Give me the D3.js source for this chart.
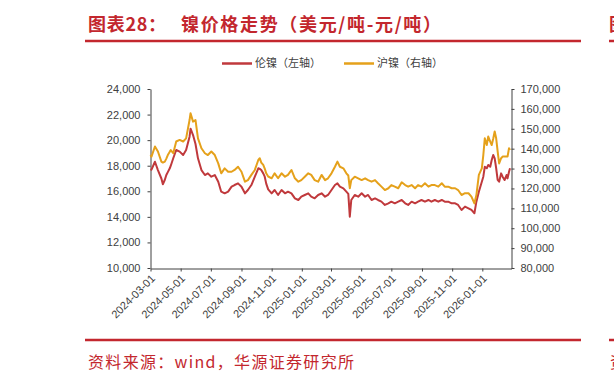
<!DOCTYPE html>
<html>
<head>
<meta charset="utf-8">
<title>镍价格走势</title>
<script src="https://d3js.org/d3.v7.min.js"></script>
<style>
    body { margin: 0; background: #fff; }
    .axis text { font-family: "Liberation Sans", Arial, sans-serif; font-size: 11px; fill: #404040; }
    .axis path, .axis line { stroke: #404040; }
    .cjk { font-family: "Noto Sans CJK SC", sans-serif; }
</style>
</head>
<body>
<svg id="chart" width="614" height="378"></svg>
<script>
// dates of the sampled points
var dates = [
    "2024-03-01","2024-03-03","2024-03-10","2024-03-16","2024-03-23","2024-03-26","2024-03-30",
    "2024-04-02","2024-04-05","2024-04-09","2024-04-11","2024-04-16","2024-04-22","2024-04-29",
    "2024-05-06","2024-05-12","2024-05-19","2024-05-21","2024-05-26","2024-05-31",
    "2024-06-05","2024-06-12","2024-06-19","2024-06-25",
    "2024-07-02","2024-07-09","2024-07-16","2024-07-22","2024-07-29",
    "2024-08-05","2024-08-12","2024-08-18","2024-08-25",
    "2024-09-01","2024-09-08","2024-09-14","2024-09-21","2024-09-28",
    "2024-10-05","2024-10-08","2024-10-11","2024-10-15","2024-10-18","2024-10-21","2024-10-25",
    "2024-11-01","2024-11-07","2024-11-14","2024-11-21","2024-11-28",
    "2024-12-04","2024-12-11","2024-12-18","2024-12-25","2024-12-31",
    "2025-01-07","2025-01-14","2025-01-20","2025-01-27",
    "2025-02-03","2025-02-10","2025-02-17","2025-02-23",
    "2025-03-02","2025-03-09","2025-03-14","2025-03-19","2025-03-26",
    "2025-04-01","2025-04-05","2025-04-08","2025-04-11","2025-04-18","2025-04-25",
    "2025-05-02","2025-05-09","2025-05-15","2025-05-22","2025-05-29",
    "2025-06-04","2025-06-11","2025-06-18","2025-06-25",
    "2025-07-01","2025-07-08","2025-07-15","2025-07-22","2025-07-29",
    "2025-08-04","2025-08-11","2025-08-18","2025-08-24","2025-08-31",
    "2025-09-07","2025-09-14","2025-09-20","2025-09-27",
    "2025-10-04","2025-10-11","2025-10-17","2025-10-24","2025-10-31",
    "2025-11-07","2025-11-13","2025-11-20","2025-11-27",
    "2025-12-04","2025-12-10","2025-12-16","2025-12-20","2025-12-25","2025-12-31",
    "2026-01-03","2026-01-06","2026-01-10","2026-01-13","2026-01-17","2026-01-20","2026-01-23","2026-01-26","2026-01-29",
    "2026-02-01","2026-02-04","2026-02-08","2026-02-11","2026-02-15","2026-02-19","2026-02-21","2026-02-24","2026-02-26"
];

// LME nickel, USD/t (left axis)
var lmeNickel = [
    17660,17700,18310,17660,17000,16550,16900,
    17270,17500,17800,18000,18580,19230,19100,
    18840,19230,20270,20900,20400,19700,
    18580,17660,17270,17400,
    17140,17270,16750,15970,15840,
    15970,16360,16490,16620,
    16360,15840,16100,16490,17140,
    17800,17750,17660,17400,17140,16600,16150,
    15840,16100,15710,16100,15840,
    15970,15840,15450,15320,15580,
    15710,15840,15580,15450,
    15710,15840,15580,15710,
    16100,16490,16620,16360,16230,
    15970,15800,14010,15320,15710,15580,
    15840,15580,15710,15320,15450,
    15320,15190,14930,15060,
    15190,15060,15190,15320,15060,
    14930,15190,15060,15190,15320,
    15190,15320,15190,15320,
    15190,15320,15190,15190,15060,
    15060,14930,14540,14800,
    14670,14540,14280,15190,15970,16750,
    17140,17920,17800,18060,17920,18450,18840,18580,17800,
    16900,16750,17400,17140,16880,17270,17010,17530,17800
];

// SHFE nickel, CNY/t (right axis)
var shfeNickel = [
    136800,136000,141100,138600,133500,133000,133500,
    135000,136800,138500,139300,137700,143600,144400,
    143600,145200,154400,157800,153600,154400,
    145200,140200,137700,136800,
    138600,136800,132600,127600,130100,
    128400,128400,129300,130900,
    128400,123400,124200,126800,129300,
    134300,135200,133000,131800,130000,127600,126000,
    125100,127600,125100,127600,125900,
    126800,129300,125100,123400,124200,
    125900,127600,126800,124200,
    123400,126800,124200,125100,
    127600,130900,133500,130900,130100,
    127600,126500,120100,124200,125900,125100,
    124200,125100,124200,123400,124200,
    122600,120900,119200,120100,
    121700,120900,120100,123100,121700,
    120900,121700,120100,121700,120900,
    122600,120900,121700,121700,
    120900,122600,120900,120900,120100,
    120100,119200,116700,117600,
    117600,115900,112500,116700,126800,130100,
    136800,145200,141800,146100,143600,141800,145000,148600,145200,
    138600,132600,135200,136000,136000,136000,136000,140200,139300
];

var leftTicks = [10000, 12000, 14000, 16000, 18000, 20000, 22000, 24000];
var rightTicks = [80000, 90000, 100000, 110000, 120000, 130000, 140000, 150000, 160000, 170000];
var xTicks = ["2024-03-01","2024-05-01","2024-07-01","2024-09-01","2024-11-01","2025-01-01",
              "2025-03-01","2025-05-01","2025-07-01","2025-09-01","2025-11-01","2026-01-01"];
var seriesNames = ["伦镍（左轴）", "沪镍（右轴）"];
var seriesColors = ["#c0393c", "#e5a11b"];

var parse = d3.timeParse("%Y-%m-%d");
var svg = d3.select("#chart");
var red = "#c3272e";

svg.append("rect").attr("width", 614).attr("height", 378).attr("fill", "#fff");

// title and rules
var title = svg.append("text").attr("class", "cjk")
    .attr("y", 31).attr("fill", red)
    .style("font-size", "18px").style("font-weight", "bold");
title.append("tspan").attr("x", 88).attr("textLength", 78).text("图表28：");
title.append("tspan").attr("x", 181).attr("textLength", 260).text("镍价格走势（美元/吨-元/吨）");

svg.append("line").attr("x1", 85).attr("x2", 581).attr("y1", 41).attr("y2", 41)
    .attr("stroke", red).attr("stroke-width", 2.5);
svg.append("line").attr("x1", 85).attr("x2", 581).attr("y1", 340).attr("y2", 340)
    .attr("stroke", red).attr("stroke-width", 2.5);

svg.append("text").attr("class", "cjk")
    .attr("x", 88).attr("y", 368).attr("fill", red)
    .attr("textLength", 266)
    .style("font-size", "16px")
    .text("资料来源：wind，华源证券研究所");

// bits of the next chart cut off at the right edge
svg.append("text").attr("class", "cjk").attr("x", 609).attr("y", 31).attr("fill", red)
    .style("font-size", "18px").style("font-weight", "bold").text("图");
svg.append("line").attr("x1", 609).attr("x2", 614).attr("y1", 41).attr("y2", 41)
    .attr("stroke", red).attr("stroke-width", 2.5);
svg.append("line").attr("x1", 609).attr("x2", 614).attr("y1", 340).attr("y2", 340)
    .attr("stroke", red).attr("stroke-width", 2.5);
svg.append("text").attr("class", "cjk").attr("x", 610).attr("y", 368).attr("fill", red)
    .style("font-size", "16px").text("资");

// scales
var x = d3.scaleTime()
    .domain([parse("2024-03-01"), parse("2026-03-01")])
    .range([150.5, 511.5]);
var yLeft = d3.scaleLinear().domain([10000, 24000]).range([268, 89]);
var yRight = d3.scaleLinear().domain([80000, 170000]).range([268, 89]);

// axes
svg.append("g").attr("class", "axis")
    .attr("transform", "translate(150.5,0)")
    .call(d3.axisLeft(yLeft).tickValues(leftTicks).tickSize(3).tickSizeOuter(0)
        .tickPadding(7).tickFormat(d3.format(",")));

svg.append("g").attr("class", "axis")
    .attr("transform", "translate(511.5,0)")
    .call(d3.axisRight(yRight).tickValues(rightTicks).tickSize(3).tickSizeOuter(0)
        .tickPadding(6).tickFormat(d3.format(",")));

var xAxis = svg.append("g").attr("class", "axis")
    .attr("transform", "translate(0,268.5)")
    .call(d3.axisBottom(x).tickValues(xTicks.map(parse)).tickSize(3).tickSizeOuter(0)
        .tickFormat(d3.timeFormat("%Y-%m-%d")));
xAxis.selectAll("text")
    .attr("x", 0).attr("y", 0).attr("dy", "0.35em")
    .attr("text-anchor", "end")
    .attr("transform", "translate(2,8) rotate(-45)");

// series
var lmeData = dates.map(function(d, i) { return { date: parse(d), v: lmeNickel[i] }; });
var shfeData = dates.map(function(d, i) { return { date: parse(d), v: shfeNickel[i] }; });

var lineLeft = d3.line().x(function(d) { return x(d.date); }).y(function(d) { return yLeft(d.v); });
var lineRight = d3.line().x(function(d) { return x(d.date); }).y(function(d) { return yRight(d.v); });

svg.append("path").datum(lmeData)
    .attr("fill", "none").attr("stroke", seriesColors[0]).attr("stroke-width", 2)
    .attr("stroke-linejoin", "round")
    .attr("d", lineLeft);
svg.append("path").datum(shfeData)
    .attr("fill", "none").attr("stroke", seriesColors[1]).attr("stroke-width", 2)
    .attr("stroke-linejoin", "round")
    .attr("d", lineRight);

// legend
var legendX = [222, 344];
seriesNames.forEach(function(name, i) {
    var g = svg.append("g").attr("transform", "translate(" + legendX[i] + ",63.5)");
    g.append("line").attr("x1", 0).attr("x2", 30)
        .attr("stroke", seriesColors[i]).attr("stroke-width", 2.5);
    g.append("text").attr("class", "cjk")
        .attr("x", 33).attr("dy", "0.35em")
        .attr("fill", "#404040").style("font-size", "11px")
        .text(name);
});
</script>
</body>
</html>
